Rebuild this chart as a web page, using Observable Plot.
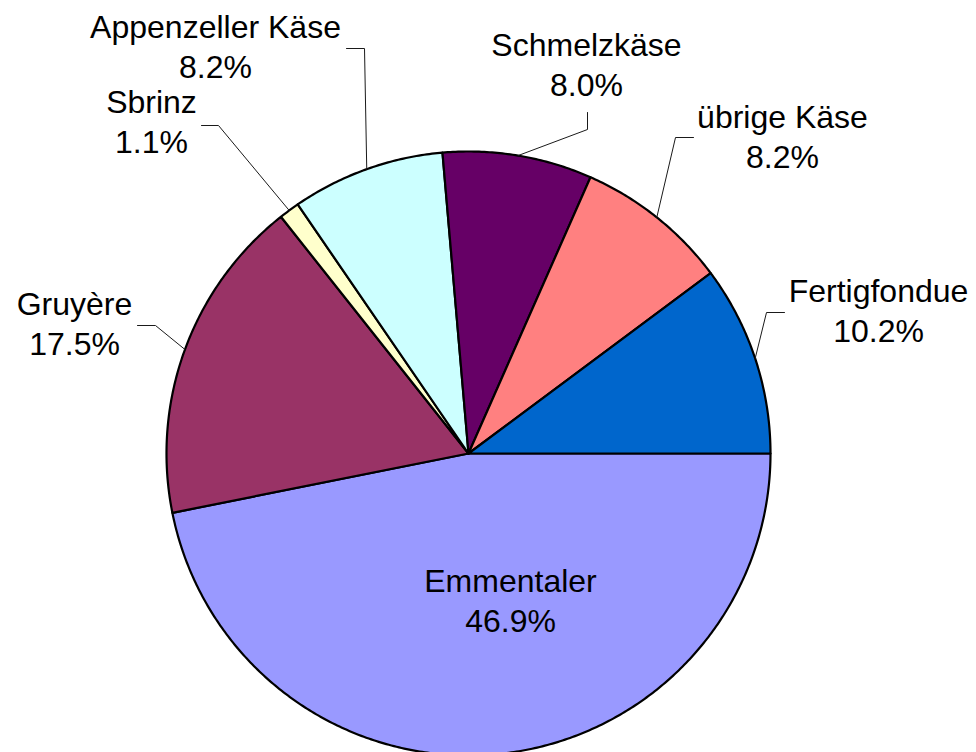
<!DOCTYPE html>
<html>
<head>
<meta charset="utf-8">
<script src="https://cdn.jsdelivr.net/npm/d3@7"></script>
<script src="https://cdn.jsdelivr.net/npm/@observablehq/plot@0.6"></script>
<style>
  html, body { margin: 0; padding: 0; background: #ffffff; }
  #chart svg { display: block; }
</style>
</head>
<body>
<div id="chart"></div>
<script>
// ---- data ----
const categories = ["Emmentaler", "Gruyère", "Sbrinz", "Appenzeller Käse", "Schmelzkäse", "übrige Käse", "Fertigfondue"];
const shares = [46.9, 17.5, 1.1, 8.2, 8.0, 8.2, 10.2];
const sliceColors = ["#9999FF", "#993366", "#FFFFCC", "#CCFFFF", "#660066", "#FF8080", "#0066CC"];

// ---- layout (pixel frame of the 976x752 chart) ----
const W = 976, H = 752;
const center = [468, 453];
const radius = 302;
const fontSize = 32;
// label block: centre x, top of first line; leader: stub start and elbow
const labelLayout = {
  "Emmentaler":       {x: 510, top: 563, leader: null},
  "Gruyère":          {x: 74,  top: 286, leader: [[137, 325], [155, 325]]},
  "Sbrinz":           {x: 151, top: 84,  leader: [[201, 125], [218, 125]]},
  "Appenzeller Käse": {x: 215, top: 9,   leader: [[346, 48], [364, 48]]},
  "Schmelzkäse":      {x: 586, top: 27,  leader: [[587, 112], [587, 129]]},
  "übrige Käse":      {x: 782, top: 99,  leader: [[693, 137], [675, 137]]},
  "Fertigfondue":     {x: 878, top: 273, leader: [[784, 312], [766, 312]]}
};

// ---- geometry from the data ----
const rows = categories.map((name, i) => ({name, value: shares[i]}));
const arcs = d3.pie().sort(null).value(d => d.value)
  .startAngle(Math.PI / 2).endAngle(Math.PI / 2 + 2 * Math.PI)(rows);

const polar = (a, r) => [center[0] + r * Math.sin(a), center[1] - r * Math.cos(a)];

const slicePoints = [];
for (const a of arcs) {
  const name = a.data.name;
  slicePoints.push({name, x: center[0], y: center[1]});
  const steps = Math.max(2, Math.ceil((a.endAngle - a.startAngle) / (Math.PI / 360)));
  for (let k = 0; k <= steps; k++) {
    const t = a.startAngle + (a.endAngle - a.startAngle) * k / steps;
    const [x, y] = polar(t, radius);
    slicePoints.push({name, x, y});
  }
}

const labelRows = arcs.map(a => {
  const L = labelLayout[a.data.name];
  return {name: a.data.name, x: L.x, y: L.top, text: `${a.data.name}\n${a.data.value.toFixed(1)}%`};
});

const leaderPoints = [];
for (const a of arcs) {
  const L = labelLayout[a.data.name];
  if (!L.leader) continue;
  const mid = (a.startAngle + a.endAngle) / 2;
  const [ex, ey] = polar(mid, radius);
  for (const [x, y] of L.leader) leaderPoints.push({name: a.data.name, x, y});
  leaderPoints.push({name: a.data.name, x: ex, y: ey});
}

const chart = Plot.plot({
  width: W,
  height: H,
  margin: 0,
  x: {domain: [0, W], range: [0, W], axis: null},
  y: {domain: [0, H], range: [0, H], axis: null},
  color: {domain: categories, range: sliceColors},
  style: {fontFamily: "'Liberation Sans', Arial, Helvetica, sans-serif", background: "#ffffff"},
  marks: [
    Plot.line(slicePoints, {
      x: "x", y: "y", z: "name", fill: "name",
      stroke: "#000000", strokeWidth: 2.2, strokeLinejoin: "round",
      curve: "linear-closed"
    }),
    Plot.line(leaderPoints, {
      x: "x", y: "y", z: "name",
      stroke: "#1a1a1a", strokeWidth: 1, strokeLinejoin: "miter"
    }),
    Plot.text(labelRows, {
      x: "x", y: "y", text: "text",
      fontSize: fontSize, lineAnchor: "top", textAnchor: "middle",
      lineHeight: 1.25, fill: "#000000"
    })
  ]
});

document.getElementById("chart").appendChild(chart);
</script>
</body>
</html>
